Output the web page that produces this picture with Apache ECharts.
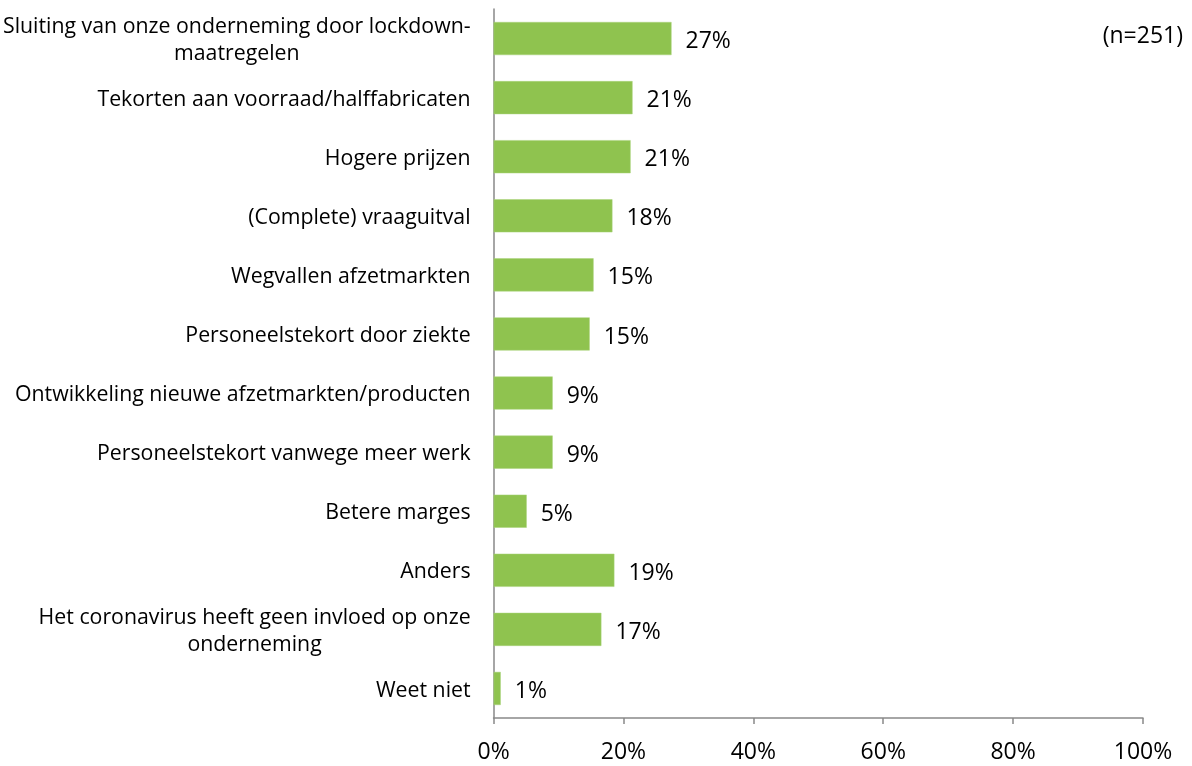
<!DOCTYPE html>
<html><head><meta charset="utf-8">
<script src="https://cdn.jsdelivr.net/npm/echarts@6/dist/echarts.min.js"></script>
<style>html,body{margin:0;padding:0;background:#fff}#c{width:1192px;height:766px}</style>
</head><body><div id="c"></div>
<script>
const categories = [
  "Sluiting van onze onderneming door lockdown-\nmaatregelen",
  "Tekorten aan voorraad/halffabricaten",
  "Hogere prijzen",
  "(Complete) vraaguitval",
  "Wegvallen afzetmarkten",
  "Personeelstekort door ziekte",
  "Ontwikkeling nieuwe afzetmarkten/producten",
  "Personeelstekort vanwege meer werk",
  "Betere marges",
  "Anders",
  "Het coronavirus heeft geen invloed op onze\nonderneming",
  "Weet niet"
];
const values = [27.4, 21.4, 21.1, 18.3, 15.4, 14.8, 9.1, 9.1, 5.1, 18.6, 16.6, 1.1];
const valueLabels = ["27%", "21%", "21%", "18%", "15%", "15%", "9%", "9%", "5%", "19%", "17%", "1%"];
const xTicks = [0, 20, 40, 60, 80, 100];
const note = "(n=251)";

const FONT = "Open Sans";
const CAT_SIZE = 21.3;
const chart = echarts.init(document.getElementById('c'));
chart.setOption({
  animation: false,
  grid: { left: 493, right: 49, top: 9, bottom: 48 },
  xAxis: {
    type: 'value', min: 0, max: 100, interval: 20,
    axisLine: { show: true, lineStyle: { color: '#898989', width: 1.5 } },
    axisTick: { show: true, length: 6, lineStyle: { color: '#898989', width: 1.5 } },
    splitLine: { show: false },
    axisLabel: { formatter: v => v + '%', color: '#000', fontSize: 23, fontFamily: FONT, margin: 23 }
  },
  yAxis: {
    type: 'category', inverse: true, data: categories,
    axisLine: { show: true, lineStyle: { color: '#898989', width: 1.5 } },
    axisTick: { show: false },
    axisLabel: {
      color: '#000', fontSize: CAT_SIZE, fontFamily: FONT, margin: 23, lineHeight: 27,
      padding: [4, 0, 0, 0],
      formatter: function (v) {
        const parts = v.split('\n');
        if (parts.length === 1) return v;
        return '{r|' + parts[0] + '}\n{c|' + parts[1] + '}';
      },
      rich: {
        r: { fontSize: CAT_SIZE, fontFamily: FONT, color: '#000', lineHeight: 27, align: 'right' },
        c: { fontSize: CAT_SIZE, fontFamily: FONT, color: '#000', lineHeight: 27, align: 'center' }
      }
    }
  },
  series: [{
    type: 'bar', data: values, barWidth: '56%',
    itemStyle: { color: '#8FC34F', borderColor: '#A9D37A', borderWidth: 0.5 },
    label: {
      show: true, position: 'right', distance: 14, color: '#000', fontSize: 23, fontFamily: FONT,
      offset: [0, 3],
      formatter: p => valueLabels[p.dataIndex]
    }
  }],
  graphic: [{
    type: 'text', right: 9, top: 25,
    style: { text: note, fontSize: 23, fontFamily: FONT, fill: '#000' }
  }]
});
</script></body></html>
